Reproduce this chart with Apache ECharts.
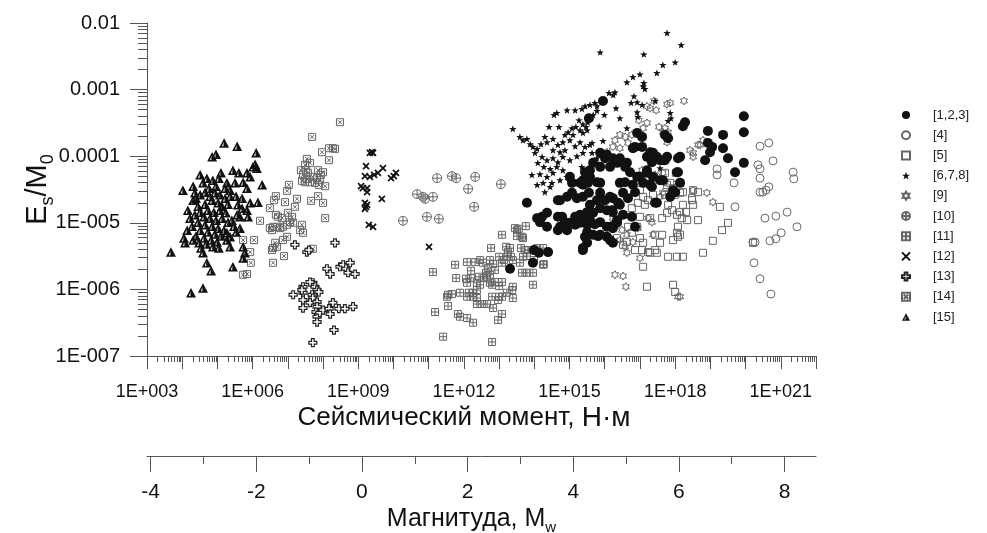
<!DOCTYPE html>
<html>
<head>
<meta charset="utf-8">
<script src="https://cdn.jsdelivr.net/npm/echarts@6/dist/echarts.min.js"></script>
<style>
  html, body { margin: 0; padding: 0; background: #ffffff; }
  #chart { width: 987px; height: 533px; }
</style>
</head>
<body>
<div id="chart"></div>
<script>
// Every point is [log10 of seismic moment M0 (N·m), log10 of Es/M0].
const set123 = [
  [15.95,-3.17],[15.55,-3.43],[18.22,-3.55],[18.28,-3.49],[16.92,-3.65],[17.06,-3.71],[16.86,-3.86],[17.29,-3.94],
  [17.48,-4.01],[17.77,-4.01],[18.14,-4.01],[17.37,-3.95],[16.06,-3.98],[16.23,-4.03],[16.35,-4.10],[16.15,-4.16],
  [15.87,-4.16],[15.67,-4.10],[15.44,-4.24],[15.58,-4.31],[15.01,-4.31],[15.07,-4.40],[16.58,-4.16],[16.72,-4.24],
  [16.92,-4.31],[17.20,-4.25],[17.37,-4.31],[17.65,-4.36],[18.05,-4.24],[18.14,-4.40],[16.43,-4.40],[16.80,-4.43],
  [17.29,-4.43],[15.38,-4.43],[15.87,-4.40],[13.79,-4.70],[14.08,-4.93],[14.22,-4.91],[14.36,-4.85],[14.36,-5.06],
  [14.73,-4.66],[14.93,-4.61],[15.07,-4.55],[15.21,-4.63],[15.38,-4.61],[15.55,-4.55],[15.78,-4.39],[15.52,-4.40],
  [15.30,-4.40],[15.78,-4.66],[15.87,-4.55],[16.01,-4.66],[16.15,-4.61],[14.79,-4.91],[14.87,-4.99],[15.01,-5.00],
  [15.16,-4.91],[15.30,-4.88],[15.44,-4.93],[15.58,-4.96],[15.67,-4.85],[15.87,-4.78],[16.06,-4.81],[16.23,-4.84],
  [16.38,-4.70],[14.73,-5.06],[14.93,-5.11],[15.16,-5.03],[15.30,-5.00],[15.50,-5.03],[15.72,-5.02],[15.87,-4.99],
  [16.06,-5.06],[16.21,-5.05],[16.35,-4.96],[15.44,-5.21],[15.50,-5.30],[15.38,-5.41],[15.81,-5.20],[16.06,-5.21],
  [16.23,-5.30],[13.99,-5.41],[14.13,-5.45],[14.39,-5.44],[13.96,-5.60],[13.31,-5.69],[17.43,-4.70],[17.86,-4.61],
  [18.00,-4.54],[15.87,-3.95],[16.43,-4.03],[16.63,-4.10],[17.00,-4.31],[17.09,-4.40],[16.86,-4.54],[16.58,-4.39],
  [16.66,-4.63],[17.20,-4.01],[17.34,-4.09],[17.65,-4.06],[17.20,-4.21],[17.57,-4.36],[17.34,-4.46],[14.16,-4.99],
  [14.67,-4.66],[14.67,-4.91],[14.67,-5.11],[19.95,-3.40],[19.95,-3.64],[18.93,-3.62],[19.36,-3.68],[17.71,-3.68],
  [17.80,-3.73],[18.93,-3.80],[19.05,-3.86],[18.99,-3.94],[19.36,-3.88],[18.85,-4.06],[19.50,-4.03],[19.95,-4.10],
  [19.70,-4.24],[18.08,-4.03],[17.71,-4.06],[17.57,-4.06],[18.08,-4.24],[17.94,-4.51],[16.80,-3.88],[17.06,-3.86],
  [16.01,-4.03],[15.58,-4.21],[15.38,-4.36],[16.52,-4.55],[16.23,-4.63],[16.21,-4.81],[16.43,-4.73],[16.52,-4.88],
  [15.58,-4.73],[15.50,-4.84],[15.38,-4.99],[15.50,-5.14],[15.67,-5.18],[15.87,-5.18],[16.15,-5.26],[15.38,-5.38],
  [16.35,-5.00],[16.77,-4.91],[16.86,-5.06],[16.23,-5.08],[17.48,-4.70]
];
const set4 = [
  [20.41,-3.85],[20.66,-3.80],[20.78,-4.07],[20.35,-4.13],[20.41,-4.19],[21.35,-4.24],[21.37,-4.34],[19.19,-4.19],
  [19.19,-4.28],[19.67,-4.40],[20.41,-4.33],[20.41,-4.54],[20.49,-4.54],[20.58,-4.51],[20.66,-4.46],[19.70,-4.76],
  [20.55,-4.93],[20.86,-4.90],[21.18,-4.84],[21.46,-5.06],[21.01,-5.15],[20.86,-5.24],[20.69,-5.27],[20.21,-5.29],
  [20.27,-5.29],[20.24,-5.60],[20.41,-5.84],[20.72,-6.07]
];
const set5 = [
  [17.71,-4.25],[17.77,-4.43],[17.94,-4.48],[18.14,-4.40],[18.22,-4.54],[18.00,-4.58],[18.48,-4.63],[18.51,-4.73],
  [18.31,-4.84],[18.19,-4.93],[18.34,-4.96],[18.05,-4.88],[17.91,-4.81],[17.77,-4.85],[17.80,-4.73],[17.63,-4.93],
  [18.08,-5.06],[18.05,-5.15],[17.94,-5.26],[18.08,-5.21],[17.63,-5.18],[17.48,-5.45],[17.29,-5.45],[17.80,-5.51],
  [18.05,-5.51],[18.22,-5.51],[17.09,-5.66],[17.20,-5.96],[17.94,-5.93],[18.00,-6.04],[17.00,-4.91],[16.92,-5.06],
  [16.77,-5.15],[17.00,-5.23],[17.09,-5.30],[16.86,-5.41],[16.63,-5.29],[16.77,-4.78],[16.94,-4.70],[17.09,-4.61],
  [17.23,-4.66],[17.37,-4.58],[17.00,-4.51],[16.35,-5.23],[16.52,-5.33],[16.52,-4.88],[16.66,-5.06],[18.02,-4.25],
  [17.86,-4.40],[18.14,-4.55],[18.51,-4.51],[18.65,-4.54],[18.48,-4.66],[18.14,-4.84],[18.65,-4.96],[19.27,-4.76],
  [19.50,-5.00],[19.33,-5.11],[19.07,-5.27],[18.79,-5.45],[20.21,-5.30],[17.14,-4.73],[17.29,-4.93],[17.43,-5.18],
  [17.57,-5.30],[18.14,-5.18],[18.22,-4.73],[17.71,-4.58],[17.06,-5.41],[17.23,-5.44],[17.43,-5.41]
];
const set678 = [
  [17.77,-2.15],[18.17,-2.33],[15.87,-2.44],[17.11,-2.47],[18.00,-2.59],[17.65,-2.63],[17.48,-2.75],[16.63,-2.89],
  [16.80,-2.81],[17.00,-2.77],[17.11,-2.90],[17.14,-2.99],[17.09,-2.95],[16.12,-3.05],[16.29,-3.04],[16.24,-3.08],
  [16.83,-3.10],[16.75,-3.20],[16.92,-3.19],[17.06,-3.23],[17.43,-3.17],[16.32,-3.28],[15.72,-3.20],[15.78,-3.25],
  [15.58,-3.23],[15.44,-3.25],[15.35,-3.29],[15.16,-3.31],[14.93,-3.31],[14.64,-3.35],[14.56,-3.38],[15.78,-3.32],
  [15.67,-3.38],[16.92,-3.34],[16.94,-3.41],[17.86,-3.35],[17.88,-3.43],[17.80,-3.47],[15.27,-3.46],[15.38,-3.52],
  [15.47,-3.56],[15.52,-3.49],[15.30,-3.61],[15.18,-3.56],[15.07,-3.58],[14.96,-3.64],[15.10,-3.68],[15.38,-3.65],
  [15.50,-3.61],[15.84,-3.55],[14.42,-3.56],[14.70,-3.56],[13.39,-3.59],[15.95,-3.77],[16.63,-3.58],[13.59,-3.71],
  [13.68,-3.76],[13.79,-3.74],[13.88,-3.82],[13.96,-3.86],[14.08,-3.89],[14.19,-3.82],[14.30,-3.71],[14.36,-3.79],
  [14.53,-3.74],[14.67,-3.83],[14.81,-3.79],[14.87,-3.68],[15.01,-3.76],[15.16,-3.85],[14.53,-3.91],[14.73,-3.94],
  [14.87,-3.91],[15.30,-3.79],[15.44,-3.86],[15.58,-3.83],[15.64,-3.80],[14.02,-3.95],[14.22,-4.01],[14.36,-4.06],
  [14.53,-4.03],[14.67,-4.09],[14.81,-4.01],[15.01,-4.06],[15.21,-4.00],[15.38,-3.95],[15.64,-3.95],[14.10,-4.10],
  [14.27,-4.16],[14.45,-4.19],[14.64,-4.16],[14.81,-4.21],[14.16,-4.27],[14.36,-4.31],[14.53,-4.25],[14.73,-4.36],
  [14.93,-4.31],[14.25,-4.40],[14.45,-4.46],[14.08,-4.43],[14.30,-4.54],[13.93,-4.28],[14.50,-4.40],[15.78,-4.03],
  [15.35,-4.16],[17.57,-4.18],[15.99,-3.38],[16.43,-3.43]
];
const set9 = [
  [17.40,-3.17],[17.29,-3.28],[17.46,-3.31],[17.20,-3.25],[18.25,-3.17],[17.77,-3.22],[16.97,-3.46],[17.20,-3.50],
  [17.09,-3.58],[17.54,-3.56],[17.71,-3.58],[17.80,-3.64],[17.77,-3.73],[16.43,-3.68],[16.58,-3.71],[16.77,-3.68],
  [16.29,-3.76],[16.66,-3.80],[18.42,-3.91],[18.51,-3.95],[18.65,-3.83],[16.23,-3.86],[16.43,-3.88],[17.65,-3.64],
  [17.77,-3.79],[18.71,-3.83],[18.79,-3.76],[18.51,-4.01],[17.65,-4.25],[17.71,-4.39],[18.08,-4.40],[17.86,-4.54],
  [18.90,-4.55],[19.07,-4.69],[18.51,-4.51],[18.08,-6.11],[16.29,-5.78],[16.52,-5.80],[16.60,-5.96],[17.37,-5.18],
  [16.63,-5.45],[17.00,-5.53],[18.14,-6.11],[17.23,-4.93],[17.34,-4.99],[18.14,-4.40],[17.65,-4.55],[17.57,-4.61],
  [16.49,-5.11],[16.43,-5.26],[16.06,-3.94],[17.86,-3.20],[17.20,-4.25],[17.06,-4.21],[17.43,-4.28],[17.29,-4.39],
  [16.23,-4.93],[16.09,-5.06],[16.63,-5.18],[16.58,-5.36],[16.80,-5.29],[16.94,-5.08]
];
const set10 = [
  [10.27,-4.97],[11.24,-4.33],[11.66,-4.30],[11.78,-4.33],[12.32,-4.31],[12.12,-4.49],[13.05,-4.42],[10.67,-4.57],
  [10.84,-4.61],[10.90,-4.64],[11.12,-4.61],[12.29,-4.76],[10.95,-4.91],[11.29,-4.94]
];
const set11 = [
  [13.45,-5.08],[13.51,-5.11],[13.56,-5.09],[13.76,-5.05],[13.65,-5.21],[13.68,-5.23],[13.51,-5.20],[13.08,-5.18],
  [12.77,-5.38],[13.20,-5.36],[13.25,-5.44],[13.31,-5.38],[13.22,-5.51],[13.34,-5.51],[13.39,-5.56],[13.14,-5.56],
  [13.62,-5.38],[13.74,-5.41],[13.79,-5.50],[13.68,-5.51],[13.59,-5.60],[13.65,-5.75],[13.79,-5.75],[13.96,-5.75],
  [14.25,-5.38],[14.25,-5.63],[13.96,-5.93],[11.75,-5.63],[12.09,-5.59],[12.32,-5.59],[12.20,-5.72],[12.46,-5.56],
  [12.54,-5.60],[12.74,-5.56],[12.83,-5.62],[12.68,-5.68],[12.88,-5.71],[13.00,-5.51],[13.08,-5.60],[11.12,-5.74],
  [11.78,-5.83],[12.06,-5.84],[12.20,-5.83],[12.43,-5.81],[12.57,-5.83],[12.63,-5.75],[12.66,-5.81],[12.74,-5.78],
  [12.09,-5.90],[12.37,-5.90],[12.46,-5.93],[12.74,-5.90],[12.88,-5.89],[13.00,-5.95],[11.89,-6.05],[12.14,-6.05],
  [12.26,-6.05],[12.37,-6.01],[11.55,-6.08],[11.52,-6.11],[11.66,-6.07],[12.09,-6.11],[12.26,-6.11],[12.37,-6.13],
  [12.80,-5.93],[12.80,-6.11],[13.00,-6.11],[13.37,-6.01],[13.39,-6.13],[12.37,-6.22],[12.51,-6.22],[12.66,-6.22],
  [12.83,-6.28],[12.97,-6.16],[11.55,-6.25],[11.18,-6.34],[11.83,-6.37],[11.89,-6.41],[12.09,-6.43],[12.26,-6.50],
  [13.08,-6.37],[12.97,-6.46],[11.41,-6.71],[12.80,-6.79],[14.02,-5.41],[13.99,-5.56],[13.82,-5.41],[14.08,-5.38],
  [14.27,-5.62],[13.39,-5.96],[13.08,-5.89],[13.22,-6.05],[13.08,-6.11]
];
const set12 = [
  [9.33,-3.95],[9.42,-3.95],[9.39,-3.94],[9.22,-4.15],[9.19,-4.30],[9.33,-4.31],[9.45,-4.28],[9.56,-4.25],
  [9.70,-4.18],[9.93,-4.33],[10.07,-4.25],[10.01,-4.30],[9.08,-4.45],[9.13,-4.48],[9.25,-4.54],[9.25,-4.48],
  [9.67,-4.64],[9.19,-4.70],[9.22,-4.76],[9.19,-4.79],[9.25,-4.73],[9.30,-5.03],[9.42,-5.06],[11.01,-5.36]
];
const set13 = [
  [7.20,-5.33],[7.54,-5.44],[7.60,-5.41],[8.34,-5.30],[8.11,-5.69],[8.20,-5.77],[8.48,-5.66],[8.57,-5.63],
  [8.65,-5.69],[8.71,-5.75],[8.77,-5.60],[8.91,-5.77],[7.15,-6.08],[7.43,-5.96],[7.43,-6.05],[7.43,-6.16],
  [7.71,-5.90],[7.77,-5.96],[7.83,-6.01],[7.88,-6.04],[7.69,-6.08],[7.71,-6.13],[7.63,-6.20],[7.43,-6.28],
  [7.83,-6.19],[7.83,-6.26],[7.80,-6.34],[7.83,-6.41],[7.91,-6.35],[8.00,-6.31],[7.83,-6.49],[8.17,-6.29],
  [8.28,-6.20],[8.20,-6.37],[8.45,-6.29],[8.62,-6.29],[8.85,-6.26],[8.31,-6.61],[7.71,-6.80],[7.63,-5.89],
  [7.40,-6.01]
];
const set14 = [
  [8.48,-3.49],[7.69,-3.71],[7.97,-3.94],[8.17,-3.88],[8.28,-3.88],[8.34,-3.89],[8.17,-4.06],[7.54,-4.04],
  [7.63,-4.10],[7.49,-4.13],[7.37,-4.21],[7.52,-4.21],[7.57,-4.25],[7.43,-4.28],[7.54,-4.34],[7.40,-4.37],
  [7.49,-4.39],[7.63,-4.39],[7.71,-4.31],[7.83,-4.33],[7.91,-4.36],[8.00,-4.24],[8.06,-4.45],[7.88,-4.43],
  [7.77,-4.40],[7.86,-4.21],[7.94,-4.28],[7.03,-4.43],[6.98,-4.52],[6.66,-4.60],[6.61,-4.66],[6.49,-4.78],
  [7.26,-4.64],[7.20,-4.76],[7.66,-4.67],[7.86,-4.60],[8.00,-4.70],[8.06,-4.93],[6.21,-4.97],[6.72,-4.91],
  [6.83,-4.93],[7.00,-4.85],[7.12,-4.91],[7.06,-4.99],[7.15,-5.00],[6.98,-5.03],[6.86,-5.06],[6.78,-5.08],
  [6.69,-5.06],[6.58,-5.06],[6.49,-5.08],[7.40,-5.03],[7.35,-5.11],[7.43,-5.15],[6.98,-5.21],[6.86,-5.26],
  [6.64,-5.30],[6.58,-5.38],[6.55,-5.41],[6.69,-5.36],[6.89,-5.50],[6.58,-5.60],[7.71,-5.39],[5.73,-5.26],
  [6.04,-5.26],[5.93,-5.44],[5.95,-5.60],[5.73,-5.78],[5.84,-5.77],[6.92,-4.69],[6.66,-4.88],[6.55,-5.11]
];
const set15 = [
  [5.19,-3.80],[5.56,-3.85],[6.10,-3.95],[4.85,-4.01],[4.96,-3.97],[6.01,-4.16],[6.12,-4.18],[6.07,-4.12],
  [4.51,-4.28],[5.10,-4.25],[5.44,-4.21],[5.61,-4.25],[5.84,-4.25],[5.93,-4.31],[3.68,-5.44],[4.02,-4.51],
  [4.31,-4.45],[4.36,-4.55],[5.27,-4.40],[5.50,-4.40],[6.27,-4.43],[5.73,-4.39],[5.84,-4.48],[6.15,-4.69],
  [4.22,-4.93],[4.14,-5.11],[4.05,-5.23],[4.08,-5.30],[4.31,-5.26],[4.53,-5.38],[4.59,-5.45],[5.36,-5.36],
  [5.73,-5.36],[5.78,-5.45],[5.73,-5.53],[4.70,-5.60],[4.82,-5.72],[5.44,-5.66],[4.25,-6.05],[4.59,-5.98],
  [5.84,-4.81],[5.93,-4.70],[5.87,-4.91],[5.58,-4.73],[5.70,-4.78],[5.56,-4.88],[5.64,-4.91],[5.41,-4.96],
  [5.27,-5.15],[5.36,-5.21],[5.27,-5.26],[4.51,-4.58],[4.65,-4.54],[4.79,-4.60],[4.93,-4.55],[5.07,-4.58],
  [5.22,-4.63],[5.36,-4.60],[4.85,-4.66],[5.02,-4.70],[4.65,-4.72],[4.45,-4.75],[5.13,-4.75],[5.30,-4.72],
  [4.73,-4.81],[4.90,-4.84],[5.07,-4.81],[5.24,-4.85],[4.51,-4.84],[4.36,-4.88],[4.62,-4.91],[4.79,-4.93],
  [4.96,-4.96],[5.13,-4.93],[5.30,-4.99],[5.47,-5.05],[4.45,-4.99],[4.65,-5.03],[4.85,-5.05],[5.02,-5.08],
  [5.19,-5.11],[4.28,-5.05],[4.51,-5.11],[4.73,-5.14],[4.93,-5.17],[5.10,-5.20],[4.39,-5.20],[4.62,-5.23],
  [4.82,-5.26],[4.99,-5.29],[4.68,-5.32],[4.87,-5.36],[4.48,-5.30],[5.04,-5.38],[5.53,-5.14],[5.64,-5.08],
  [4.16,-4.81],[4.31,-4.66],[4.76,-4.48],[4.96,-4.45],[4.59,-4.40],[4.39,-4.63],[5.36,-4.51],[5.53,-4.60],
  [5.70,-4.63],[5.22,-4.48],[4.87,-4.36],[5.04,-4.33],[4.70,-4.33]
];

const legendNames = ['[1,2,3]', '[4]', '[5]', '[6,7,8]', '[9]', '[10]', '[11]', '[12]', '[13]', '[14]', '[15]'];
const xTickLabels = ['1E+003', '1E+006', '1E+009', '1E+012', '1E+015', '1E+018', '1E+021'];
const yTickLabels = ['1E-007', '1E-006', '1E-005', '0.0001', '0.001', '0.01'];
const magTickLabels = ['-4', '-2', '0', '2', '4', '6', '8'];

// Axis extents as powers of ten
const M0_EXP = [3, 22];
const RATIO_EXP = [-7, -2];

// Moment magnitude scale: Mw = 2/3 log10(M0) - 6.07
const mwOf = logM0 => (2 / 3) * logM0 - 6.07;

const FONT = '"Liberation Sans", Arial, sans-serif';
const INK = '#111111';
const AXIS = '#555555';
const GREY = '#666666';

// Marker outlines (10 x 10 design box)
const SYM = {
  square: 'path://M0,0L10,0L10,10L0,10Z',
  star: 'path://M5,0L6.18,3.38L9.76,3.45L6.9,5.62L7.94,9.05L5,7L2.06,9.05L3.1,5.62L0.24,3.45L3.82,3.38Z',
  hexagram: 'path://M5,0L6.44,2.5L9.33,2.5L7.89,5L9.33,7.5L6.44,7.5L5,10L3.56,7.5L0.67,7.5L2.11,5L0.67,2.5L3.56,2.5Z',
  circlePlus: 'path://M0,5A5,5,0,1,1,10,5A5,5,0,1,1,0,5ZM5,0L5,10M0,5L10,5',
  squarePlus: 'path://M0,0L10,0L10,10L0,10ZM5,0L5,10M0,5L10,5',
  cross: 'path://M0,0L10,10M10,0L0,10',
  plusOutline: 'path://M3.3,0L6.7,0L6.7,3.3L10,3.3L10,6.7L6.7,6.7L6.7,10L3.3,10L3.3,6.7L0,6.7L0,3.3L3.3,3.3Z',
  squareX: 'path://M0,0L10,0L10,10L0,10ZM2.2,2.2L7.8,7.8M7.8,2.2L2.2,7.8',
  triangle: 'path://M5,0L10,9.5L0,9.5ZM4.4,3.6L2.9,8L4.4,8Z'
};

const hollow = (color, width) => ({ color: 'rgba(0,0,0,0)', borderColor: color, borderWidth: width, opacity: 1 });
const solid = color => ({ color: color, borderWidth: 0, opacity: 1 });

const groups = [
  { data: set123, symbol: 'circle', size: 10, style: solid(INK), z: 6 },
  { data: set4, symbol: 'circle', size: 8, style: hollow(GREY, 1), z: 2 },
  { data: set5, symbol: SYM.square, size: 7, style: hollow(GREY, 1), z: 2 },
  { data: set678, symbol: SYM.star, size: 7.5, style: solid(INK), z: 5 },
  { data: set9, symbol: SYM.hexagram, size: 8, style: hollow(GREY, 1), z: 3 },
  { data: set10, symbol: SYM.circlePlus, size: 9, style: hollow(GREY, 1), z: 2 },
  { data: set11, symbol: SYM.squarePlus, size: 7, style: hollow(GREY, 1), z: 2 },
  { data: set12, symbol: SYM.cross, size: 6, style: hollow(INK, 1.7), z: 4 },
  { data: set13, symbol: SYM.plusOutline, size: 8, style: { color: '#ffffff', borderColor: '#222222', borderWidth: 1.2, opacity: 1 }, z: 4 },
  { data: set14, symbol: SYM.squareX, size: 7, style: hollow(GREY, 1), z: 2 },
  { data: set15, symbol: SYM.triangle, size: 10, style: solid(INK), z: 4 }
];

const toValues = pts => pts.map(([m, r]) => [Math.pow(10, m), Math.pow(10, r)]);

// Decade and sub-decade tick positions on the logarithmic axes
const decades = ([a, b]) => { const v = []; for (let e = a; e <= b; e++) v.push(Math.pow(10, e)); return v; };
const subDecades = ([a, b]) => {
  const v = [];
  for (let e = a; e < b; e++) for (let k = 2; k <= 9; k++) v.push(k * Math.pow(10, e));
  return v;
};
const labelFor = (labels) => {
  const vals = labels.map(Number);
  return v => {
    const i = vals.findIndex(t => Math.abs(Math.log10(t) - Math.log10(v)) < 1e-6);
    return i >= 0 ? labels[i] : '';
  };
};

const magMajor = magTickLabels.map(Number);
const magMinor = magMajor.slice(0, -1).map(v => v + 1);

const logAxisBase = (ext) => ({
  type: 'log',
  logBase: 10,
  min: Math.pow(10, ext[0]),
  max: Math.pow(10, ext[1]),
  splitLine: { show: false },
  minorTick: { show: false },
  minorSplitLine: { show: false },
  nameMoveOverlap: false
});

const option = {
  animation: false,
  backgroundColor: '#ffffff',
  textStyle: { fontFamily: FONT },
  grid: [
    { left: 147, right: 171, top: 23, bottom: 177, outerBoundsMode: 'none', containLabel: false },
    { left: 147, right: 171, top: 440, bottom: 77, outerBoundsMode: 'none', containLabel: false }
  ],
  legend: {
    orient: 'vertical',
    left: 896,
    top: 103,
    itemWidth: 8,
    itemHeight: 8,
    itemGap: 6.2,
    data: legendNames,
    selectedMode: false,
    textStyle: { fontFamily: FONT, fontSize: 13, color: '#222', lineHeight: 14, padding: [0, 0, 0, 18] }
  },
  xAxis: [
    Object.assign(logAxisBase(M0_EXP), {
      gridIndex: 0,
      position: 'bottom',
      axisLine: { show: true, onZero: false, lineStyle: { color: AXIS, width: 1 } },
      axisTick: { show: true, customValues: decades(M0_EXP), length: 13, lineStyle: { color: AXIS, width: 1 } },
      axisLabel: {
        customValues: xTickLabels.map(Number),
        formatter: labelFor(xTickLabels),
        margin: 27, fontSize: 18, color: INK, fontFamily: FONT
      },
      name: '{t|Сейсмический момент, }{u|Н·м}',
      nameLocation: 'middle',
      nameGap: 48,
      nameTextStyle: {
        padding: [0, 35, 0, 0],
        rich: {
          t: { fontSize: 26, fontFamily: FONT, color: INK },
          u: { fontSize: 28, fontFamily: FONT, color: INK }
        }
      }
    }),
    Object.assign(logAxisBase(M0_EXP), {
      gridIndex: 0,
      position: 'bottom',
      axisLine: { show: false, onZero: false },
      axisTick: { show: true, customValues: subDecades(M0_EXP), length: 6, lineStyle: { color: AXIS, width: 1 } },
      axisLabel: { show: false }
    }),
    {
      type: 'value',
      gridIndex: 1,
      position: 'bottom',
      min: mwOf(M0_EXP[0]),
      max: mwOf(M0_EXP[1]),
      splitLine: { show: false },
      nameMoveOverlap: false,
      axisLine: { show: true, onZero: false, lineStyle: { color: AXIS, width: 1 } },
      axisTick: { show: true, customValues: magMajor, length: 16, lineStyle: { color: AXIS, width: 1 } },
      axisLabel: {
        customValues: magMajor,
        formatter: v => magTickLabels[magMajor.indexOf(Math.round(v))] || '',
        margin: 26, fontSize: 21, color: INK, fontFamily: FONT
      },
      name: '{t|Магнитуда, M}{s|w}',
      nameLocation: 'middle',
      nameGap: 47,
      nameTextStyle: {
        padding: [0, 20, 0, 0],
        rich: {
          t: { fontSize: 25, fontFamily: FONT, color: INK, lineHeight: 32, verticalAlign: 'middle' },
          s: { fontSize: 15, fontFamily: FONT, color: INK, lineHeight: 15, verticalAlign: 'bottom' }
        }
      }
    },
    {
      type: 'value',
      gridIndex: 1,
      position: 'bottom',
      min: mwOf(M0_EXP[0]),
      max: mwOf(M0_EXP[1]),
      splitLine: { show: false },
      axisLine: { show: false, onZero: false },
      axisTick: { show: true, customValues: magMinor, length: 8, lineStyle: { color: AXIS, width: 1 } },
      axisLabel: { show: false }
    }
  ],
  yAxis: [
    Object.assign(logAxisBase(RATIO_EXP), {
      gridIndex: 0,
      position: 'left',
      axisLine: { show: true, onZero: false, lineStyle: { color: AXIS, width: 1 } },
      axisTick: { show: true, customValues: decades(RATIO_EXP), length: 17, lineStyle: { color: AXIS, width: 1 } },
      axisLabel: {
        customValues: yTickLabels.map(Number),
        formatter: labelFor(yTickLabels),
        margin: 27, fontSize: 20, color: INK, fontFamily: FONT
      },
      name: '{b|E}{s|s}{b|/M}{s|0}',
      nameLocation: 'middle',
      nameRotate: 90,
      nameGap: 90,
      nameTextStyle: {
        rich: {
          b: { fontSize: 29, fontFamily: FONT, color: INK, lineHeight: 38, verticalAlign: 'middle' },
          s: { fontSize: 18, fontFamily: FONT, color: INK, lineHeight: 18, verticalAlign: 'bottom' }
        }
      }
    }),
    Object.assign(logAxisBase(RATIO_EXP), {
      gridIndex: 0,
      position: 'left',
      axisLine: { show: false, onZero: false },
      axisTick: { show: true, customValues: subDecades(RATIO_EXP), length: 9, lineStyle: { color: AXIS, width: 1 } },
      axisLabel: { show: false }
    }),
    { type: 'value', gridIndex: 1, show: false, min: 0, max: 1 }
  ],
  series: groups.map((g, i) => ({
    name: legendNames[i],
    type: 'scatter',
    xAxisIndex: 0,
    yAxisIndex: 0,
    data: toValues(g.data),
    symbol: g.symbol,
    symbolSize: g.size,
    symbolKeepAspect: true,
    itemStyle: g.style,
    z: g.z,
    silent: true,
    emphasis: { disabled: true }
  }))
};

const chart = echarts.init(document.getElementById('chart'), null, { renderer: 'canvas' });
chart.setOption(option);
</script>
</body>
</html>
